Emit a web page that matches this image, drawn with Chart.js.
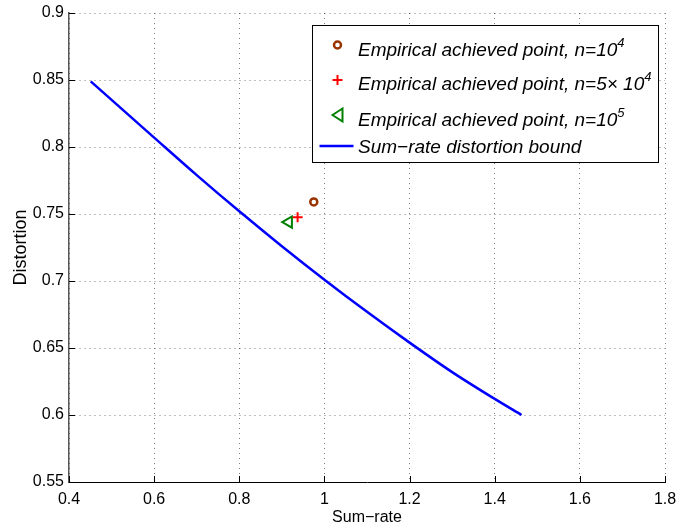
<!DOCTYPE html>
<html>
<head>
<meta charset="utf-8">
<script src="https://cdn.jsdelivr.net/npm/chart.js@4.4.0/dist/chart.umd.min.js"></script>
<style>
  body { margin: 0; background: #fff; }
  #wrap { width: 676px; height: 529px; position: relative; }
</style>
</head>
<body>
<div id="wrap"><canvas id="rd-chart"></canvas></div>
<script>
// sum-rate distortion bound
const boundRate = [0.451, 0.6, 0.7, 0.8, 0.9, 1.0, 1.1, 1.2, 1.3, 1.4, 1.463];
const boundDist = [0.849, 0.807, 0.779, 0.752, 0.726, 0.701, 0.677, 0.654, 0.632, 0.612, 0.600];

// empirical achieved points
const pt1e4 = [0.975, 0.759];
const pt5e4 = [0.937, 0.7475];
const pt1e5 = [0.916, 0.744];

const xTicks = [0.4, 0.6, 0.8, 1.0, 1.2, 1.4, 1.6, 1.8];
const yTicks = [0.55, 0.6, 0.65, 0.7, 0.75, 0.8, 0.85, 0.9];

const legendItems = [
    { kind: 'circle', parts: [['Empirical achieved point, n=10'], ['4', true]] },
    { kind: 'plus', parts: [['Empirical achieved point, n=5\u00d7 10'], ['4', true]] },
    { kind: 'tri', parts: [['Empirical achieved point, n=10'], ['5', true]] },
    { kind: 'line', parts: [['Sum\u2212rate distortion bound']] }
];

const brown = 'rgb(153,51,0)';
const red = 'rgb(255,0,0)';
const green = 'rgb(0,128,0)';
const blue = 'rgb(0,0,255)';
const FONT = '"Liberation Sans", Arial, Helvetica, sans-serif';

function drawMarker(ctx, kind, x, y) {
    ctx.save();
    ctx.lineWidth = 2;
    if (kind === 'circle') {
        ctx.strokeStyle = brown;
        ctx.lineWidth = 2.5;
        ctx.beginPath();
        ctx.arc(x, y, 3.5, 0, Math.PI * 2);
        ctx.stroke();
    } else if (kind === 'plus') {
        ctx.strokeStyle = red;
        ctx.beginPath();
        ctx.moveTo(x - 5, y); ctx.lineTo(x + 5, y);
        ctx.moveTo(x, y - 5); ctx.lineTo(x, y + 5);
        ctx.stroke();
    } else if (kind === 'tri') {
        ctx.strokeStyle = green;
        ctx.beginPath();
        ctx.moveTo(x - 5, y);
        ctx.lineTo(x + 5, y - 6.5);
        ctx.lineTo(x + 5, y + 6.5);
        ctx.closePath();
        ctx.stroke();
    } else {
        ctx.strokeStyle = blue;
        ctx.lineWidth = 2.5;
        ctx.beginPath();
        ctx.moveTo(x - 18, y); ctx.lineTo(x + 16, y);
        ctx.stroke();
    }
    ctx.restore();
}

const boxLegend = {
    id: 'boxLegend',
    afterDraw(chart) {
        const ctx = chart.ctx;
        const bx = 312, by = 25, bw = 346, bh = 137;
        ctx.save();
        ctx.fillStyle = '#fff';
        ctx.fillRect(bx, by, bw, bh);
        ctx.strokeStyle = '#000';
        ctx.lineWidth = 1;
        ctx.strokeRect(bx + 0.5, by + 0.5, bw, bh);
        const markerY = [45, 80, 115, 146];
        const baseY = [56, 90, 126, 153];
        legendItems.forEach((item, i) => {
            drawMarker(ctx, item.kind, 337.5, markerY[i]);
            let x = 358;
            ctx.fillStyle = '#000';
            ctx.textBaseline = 'alphabetic';
            item.parts.forEach(p => {
                if (p[1]) {
                    ctx.font = 'italic 13px ' + FONT;
                    ctx.fillText(p[0], x, baseY[i] - 9);
                } else {
                    ctx.font = 'italic 19px ' + FONT;
                    ctx.fillText(p[0], x, baseY[i]);
                }
                x += ctx.measureText(p[0]).width;
            });
        });
        ctx.restore();
    }
};

// small inward tick marks on the two axes
const innerTicks = {
    id: 'innerTicks',
    afterDatasetsDraw(chart) {
        const ctx = chart.ctx;
        const xs = chart.scales.x, ys = chart.scales.y;
        const a = chart.chartArea;
        ctx.save();
        ctx.strokeStyle = '#000';
        ctx.lineWidth = 1;
        ctx.beginPath();
        xTicks.forEach(v => {
            const px = Math.round(xs.getPixelForValue(v)) + 0.5;
            ctx.moveTo(px, a.bottom); ctx.lineTo(px, a.bottom - 6);
        });
        yTicks.forEach(v => {
            const py = Math.round(ys.getPixelForValue(v)) + 0.5;
            ctx.moveTo(a.left, py); ctx.lineTo(a.left + 6, py);
        });
        ctx.stroke();
        ctx.restore();
    }
};

const config = {
    type: 'scatter',
    data: {
        datasets: [
            {
                label: 'n=10^4',
                data: [{ x: pt1e4[0], y: pt1e4[1] }],
                pointStyle: 'circle',
                radius: 3.5,
                borderWidth: 2.5,
                borderColor: brown,
                backgroundColor: 'rgba(0,0,0,0)'
            },
            {
                label: 'n=5x10^4',
                data: [{ x: pt5e4[0], y: pt5e4[1] }],
                pointStyle: 'crossRot',
                rotation: 45,
                radius: 5,
                borderWidth: 2,
                borderColor: red,
                backgroundColor: red
            },
            {
                label: 'n=10^5',
                data: [{ x: pt1e5[0], y: pt1e5[1] }],
                pointStyle: 'triangle',
                rotation: -90,
                radius: 6.5,
                borderWidth: 2,
                borderColor: green,
                backgroundColor: 'rgba(0,0,0,0)'
            },
            {
                label: 'bound',
                data: boundRate.map((r, i) => ({ x: r, y: boundDist[i] })),
                showLine: true,
                borderColor: blue,
                borderWidth: 2.5,
                pointRadius: 0,
                cubicInterpolationMode: 'monotone'
            }
        ]
    },
    options: {
        responsive: true,
        maintainAspectRatio: false,
        animation: false,
        layout: { padding: { top: 13, right: 11, left: 0, bottom: 0 } },
        plugins: {
            legend: { display: false },
            tooltip: { enabled: false }
        },
        scales: {
            x: {
                type: 'linear',
                min: 0.4,
                max: 1.8,
                afterFit: s => { s.height = 47; s.paddingLeft = 0; s.paddingRight = 0; },
                afterBuildTicks: s => { s.ticks = xTicks.map(v => ({ value: v })); },
                ticks: {
                    padding: 8,
                    color: '#000',
                    font: { family: FONT, size: 16 },
                    callback: v => String(+v.toFixed(1))
                },
                grid: { color: 'rgba(0,0,0,0.5)', lineWidth: 1, drawTicks: false },
                border: { display: true, color: '#000', width: 1, dash: [1, 4] },
                title: {
                    display: true,
                    text: 'Sum\u2212rate',
                    color: '#000',
                    font: { family: FONT, size: 16 },
                    padding: { top: 0, bottom: 2 }
                }
            },
            y: {
                type: 'linear',
                min: 0.55,
                max: 0.9,
                afterFit: s => { s.width = 69; s.paddingTop = 0; s.paddingBottom = 0; },
                afterBuildTicks: s => { s.ticks = yTicks.map(v => ({ value: v })); },
                ticks: {
                    padding: 5,
                    color: '#000',
                    font: { family: FONT, size: 16 },
                    callback: v => String(+v.toFixed(2))
                },
                grid: { color: 'rgba(0,0,0,0.5)', lineWidth: 1, drawTicks: false },
                border: { display: true, color: '#555', width: 1.5, dash: [1, 4] },
                title: {
                    display: true,
                    text: 'Distortion',
                    color: '#000',
                    font: { family: FONT, size: 18 },
                    padding: { top: 10, bottom: 0 }
                }
            }
        }
    },
    plugins: [innerTicks, boxLegend]
};

new Chart(document.getElementById('rd-chart'), config);
</script>
</body>
</html>
